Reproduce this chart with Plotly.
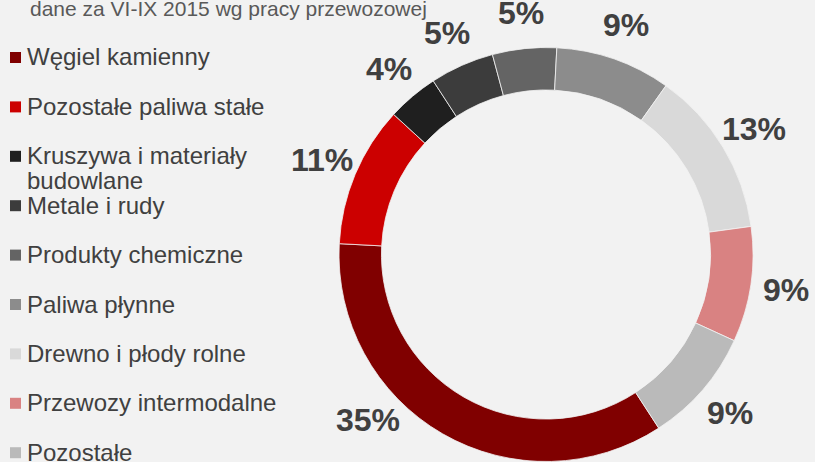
import math
import plotly.graph_objects as go

title_text = "dane za VI-IX 2015 wg pracy przewozowej"
categories = [
    "Węgiel kamienny",
    "Pozostałe paliwa stałe",
    "Kruszywa i materiały budowlane",
    "Metale i rudy",
    "Produkty chemiczne",
    "Paliwa płynne",
    "Drewno i płody rolne",
    "Przewozy intermodalne",
    "Pozostałe",
]
shares = [35, 11, 4, 5, 5, 9, 13, 9, 9]
colors = ["#800000", "#cc0000", "#1f1f1f", "#3c3c3c", "#646464",
          "#8c8c8c", "#d9d9d9", "#d98282", "#bababa"]

W, H = 815, 462
TEXT = "#404040"
FONT = "Liberation Sans, Arial"
CX, CY, R = 546, 254.5, 207      # donut centre / outer radius in pixels
ROT = 147

fig = go.Figure()
fig.add_trace(go.Pie(
    labels=categories,
    values=shares,
    sort=False,
    direction="clockwise",
    rotation=ROT,
    hole=0.795,
    marker=dict(colors=colors, line=dict(color="#f2f2f2", width=0.8)),
    textinfo="none",
    domain=dict(x=[(CX - R) / W, (CX + R) / W],
                y=[1 - (CY + R) / H, 1 - (CY - R) / H]),
    showlegend=False,
    hoverinfo="skip",
))

annotations = [dict(
    text=title_text, x=28 / W, y=1 - 9 / H, xref="paper", yref="paper",
    xanchor="left", yanchor="middle", showarrow=False,
    font=dict(family=FONT, size=21, color="#595959"))]

# percentage labels placed outside the ring at each slice's mid angle
total = sum(shares)
cum = 0
D = 243
YMAX = H - 42
for v in shares:
    theta = ROT + 360 * (cum + v / 2) / total
    cum += v
    t = math.radians(theta)
    x = CX + D * math.sin(t)
    y = CY - D * math.cos(t)
    if y > YMAX:  # keep the label inside the picture: slide it along the circle
        a = math.acos((YMAX - CY) / D)
        t = math.pi + a if math.sin(t) < 0 else math.pi - a
        x = CX + D * math.sin(t)
        y = CY - D * math.cos(t)
    annotations.append(dict(
        text=f"{round(100 * v / total)}%", x=x / W, y=1 - y / H,
        xref="paper", yref="paper", xanchor="center", yanchor="middle",
        showarrow=False,
        font=dict(family=FONT, size=32, color=TEXT, weight="bold")))

def wrap(s, n=24):
    if len(s) <= n:
        return [s]
    cut = s.rfind(" ", 0, n)
    return [s[:cut], s[cut + 1:]]

shapes = []
y0, step, lh = 57, 49.4, 25
for i, (name, col) in enumerate(zip(categories, colors)):
    yc = y0 + i * step
    for k, line in enumerate(wrap(name)):
        annotations.append(dict(
            text=line, x=25 / W, y=1 - (yc + k * lh) / H, xref="paper", yref="paper",
            xanchor="left", yanchor="middle", align="left", showarrow=False,
            font=dict(family=FONT, size=24, color=TEXT)))
    shapes.append(dict(type="rect", xref="paper", yref="paper",
                       x0=10 / W, x1=21 / W, y0=1 - (yc + 6) / H, y1=1 - (yc - 5) / H,
                       fillcolor=col, line=dict(width=0)))

fig.update_layout(
    width=W, height=H,
    margin=dict(l=0, r=0, t=0, b=0),
    paper_bgcolor="#f2f2f2", plot_bgcolor="#f2f2f2",
    annotations=annotations, shapes=shapes,
)
fig.write_html(
    "out.html",
    config={"displayModeBar": False},
    post_script="document.body.style.margin='0';document.documentElement.style.overflow='hidden';",
)
